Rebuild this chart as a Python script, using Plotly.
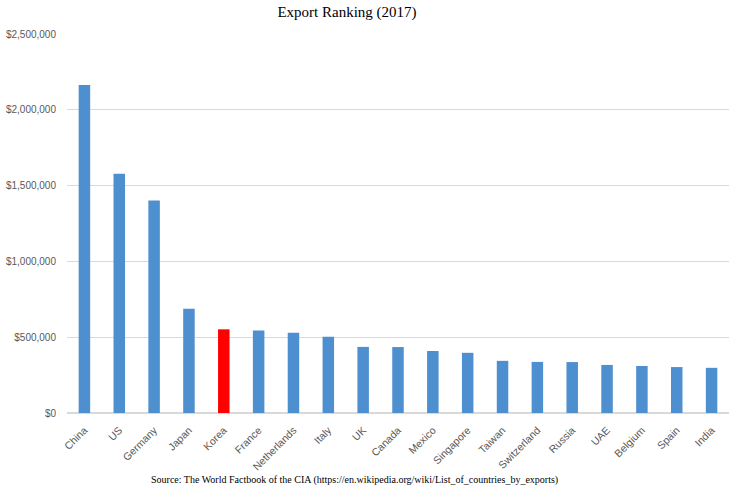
import plotly.graph_objects as go

# Export values (millions of USD)
countries = ['China', 'US', 'Germany', 'Japan', 'Korea', 'France', 'Netherlands', 'Italy',
             'UK', 'Canada', 'Mexico', 'Singapore', 'Taiwan', 'Switzerland', 'Russia',
             'UAE', 'Belgium', 'Spain', 'India']
exports = [2164000, 1578000, 1401000, 688000, 552000, 545000, 529000, 503000,
           436000, 435000, 409000, 397000, 344000, 337000, 336000,
           317000, 310000, 303000, 298000]
highlight = 'Korea'

tick_vals = [0, 500000, 1000000, 1500000, 2000000, 2500000]
tick_text = ['$0', '$500,000', '$1,000,000', '$1,500,000', '$2,000,000', '$2,500,000']

bar_colors = ['#ff0000' if c == highlight else '#4e8fcf' for c in countries]

fig = go.Figure()
fig.add_trace(go.Bar(
    x=countries,
    y=exports,
    marker=dict(color=bar_colors, line=dict(width=0)),
    showlegend=False,
))

fig.update_layout(
    width=737,
    height=489,
    plot_bgcolor='white',
    paper_bgcolor='white',
    bargap=0.67,
    margin=dict(l=67, r=8, t=34, b=76, autoexpand=False),
    title=dict(
        text='Export Ranking (2017)',
        font=dict(family='Liberation Serif', size=15, color='black'),
        x=347 / 737, xanchor='center',
        y=1 - 12 / 489, yanchor='middle',
    ),
    font=dict(family='Liberation Sans', size=10, color='#595959'),
    xaxis=dict(
        tickangle=-45,
        automargin=False,
        showgrid=False,
        showline=True,
        linecolor='#d9d9d9',
        ticks='',
        ticklabelstandoff=6,
        tickfont=dict(size=10.5, color='#595959'),
    ),
    yaxis=dict(
        range=[0, 2500000],
        automargin=False,
        tickvals=tick_vals,
        ticktext=tick_text,
        showgrid=True,
        gridcolor='#d9d9d9',
        zeroline=True,
        zerolinecolor='#d9d9d9',
        ticks='',
        ticklabelstandoff=10,
        tickfont=dict(size=10, color='#595959'),
    ),
    annotations=[dict(
        text='Source: The World Factbook of the CIA (https://en.wikipedia.org/wiki/List_of_countries_by_exports)',
        xref='paper', yref='paper',
        x=(354 - 67) / 662, y=-(480 - 413) / 379,
        xanchor='center', yanchor='middle',
        showarrow=False,
        font=dict(family='Liberation Serif', size=10, color='black'),
    )],
)

# drop the default 8px body margin so the figure sits at the window corner
fig.write_html('out.html', config={'displayModeBar': False},
               post_script="document.body.style.margin='0';")
